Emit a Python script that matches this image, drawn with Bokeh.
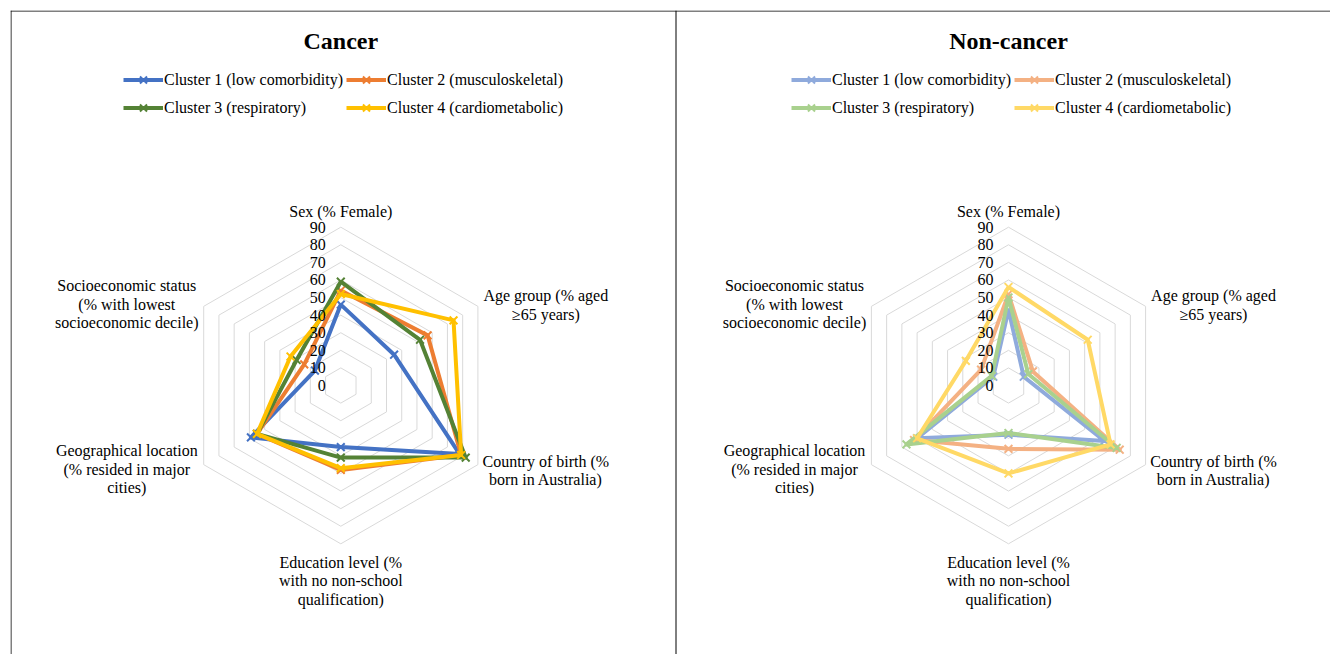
import numpy as np
from bokeh.plotting import figure
from bokeh.models import Range1d, Span, Legend, LegendItem
from bokeh.core.properties import value
from bokeh.embed import file_html
from bokeh.resources import INLINE

# ---------------- data ----------------
categories = [
    "Sex (% Female)",
    "Age group (% aged\n≥65 years)",
    "Country of birth (%\nborn in Australia)",
    "Education level (%\nwith no non-school\nqualification)",
    "Geographical location\n(% resided in major\ncities)",
    "Socioeconomic status\n(% with lowest\nsocioeconomic decile)",
]
tick_values = [0, 10, 20, 30, 40, 50, 60, 70, 80, 90]
series_names = [
    "Cluster 1 (low comorbidity)",
    "Cluster 2 (musculoskeletal)",
    "Cluster 3 (respiratory)",
    "Cluster 4 (cardiometabolic)",
]
cancer_c1 = [46, 35, 78, 35, 59, 17]
cancer_c2 = [54, 57, 79, 48, 55, 24]
cancer_c3 = [59, 52, 82, 41, 55, 29]
cancer_c4 = [52, 74, 79, 47, 55, 33]
noncancer_c1 = [43, 10, 63, 28, 60, 10]
noncancer_c2 = [52, 16, 73, 36, 62, 18]
noncancer_c3 = [50, 13, 71, 27, 67, 11]
noncancer_c4 = [56, 52, 67, 50, 60, 28]

cancer_colors = ["#4472C4", "#ED7D31", "#548235", "#FFC000"]
noncancer_colors = ["#8FAADC", "#F4B183", "#A9D18E", "#FFD966"]

# ---------------- layout constants (pixels) ----------------
S = 1.759            # pixels per percentage unit
CX_L, CY = 340.3, 385.0
CX_R = 1008.0
OX_R = (CX_R - CX_L) / S
FONT_NAME = "Liberation Serif"
FONT = value(FONT_NAME)
angles = np.deg2rad([90, 30, -30, -90, -150, 150])
# label anchor offsets from radar centre in pixels (x right, y down)
label_dx = [0, 205, 205, 0, -214, -214]
label_y0 = [211, 295, 460.5, 561.7, 450, 285]
LINE_PITCH = 18.5

p = figure(width=1330, height=654,
           x_range=Range1d((10 - CX_L) / S, (1330 - CX_L) / S),
           y_range=Range1d(-(654 - CY) / S, (CY - 10) / S),
           output_backend="svg", toolbar_location=None,
           x_axis_location=None, y_axis_location=None,
           min_border_left=10, min_border_top=10, min_border_right=0, min_border_bottom=0)
p.grid.visible = False
p.outline_line_color = None
p.background_fill_color = "white"
# panel borders: left edge, divider, top edge
for px in (10.5, 675.5):
    p.add_layout(Span(location=(px - CX_L) / S, dimension="height",
                      line_color="black", line_width=1))
p.add_layout(Span(location=(CY - 10.5) / S, dimension="width",
                  line_color="black", line_width=1))


def radar(ox, title, data, colors, legend_x):
    # rings
    ring_xs, ring_ys = [], []
    for t in tick_values[1:]:
        xs = list(ox + t * np.cos(angles)) + [ox + t * np.cos(angles[0])]
        ys = list(t * np.sin(angles)) + [t * np.sin(angles[0])]
        ring_xs.append(xs)
        ring_ys.append(ys)
    p.multi_line(ring_xs, ring_ys, line_color="#D9D9D9", line_width=1)

    items = []
    for name, vals, col in zip(series_names, data, colors):
        v = np.array(vals, dtype=float)
        x = ox + v * np.cos(angles)
        y = v * np.sin(angles)
        ln = p.line(list(x) + [x[0]], list(y) + [y[0]], line_color=col, line_width=4,
                    line_join="round")
        sc = p.scatter(x, y, marker="x", size=11, line_color=col, line_width=2)
        items.append(LegendItem(label=name, renderers=[ln, sc]))

    # tick labels
    p.text(x=[ox - 15 / S] * len(tick_values), y=tick_values,
           text=[str(t) for t in tick_values], text_align="right", text_baseline="middle",
           text_font=FONT, text_font_size="16px", text_color="black")

    # category labels
    lx, ly, lt = [], [], []
    for cat, dx, y0 in zip(categories, label_dx, label_y0):
        for i, line in enumerate(cat.split("\n")):
            lx.append(ox + dx / S)
            ly.append((CY - (y0 + i * LINE_PITCH)) / S)
            lt.append(line)
    p.text(x=lx, y=ly, text=lt, text_align="center", text_baseline="middle",
           text_font=FONT, text_font_size="16px", text_color="black")

    # title
    p.text(x=[ox], y=[(CY - 40) / S], text=[title], text_align="center",
           text_baseline="middle", text_font=FONT, text_font_size="24px",
           text_font_style="bold", text_color="black")

    leg = Legend(items=items, location=(legend_x, 534), orientation="horizontal", ncols=2,
                 glyph_width=40, glyph_height=25, label_height=25, label_standoff=1,
                 spacing=3, padding=0, margin=0, border_line_color=None,
                 background_fill_alpha=0, label_text_font=FONT_NAME,
                 label_text_font_size="16px", label_text_color="black")
    p.add_layout(leg)


radar(0.0, "Cancer", [cancer_c1, cancer_c2, cancer_c3, cancer_c4], cancer_colors, 113)
radar(OX_R, "Non-cancer", [noncancer_c1, noncancer_c2, noncancer_c3, noncancer_c4],
      noncancer_colors, 781)

open("out.html", "w").write(file_html(p, INLINE))
